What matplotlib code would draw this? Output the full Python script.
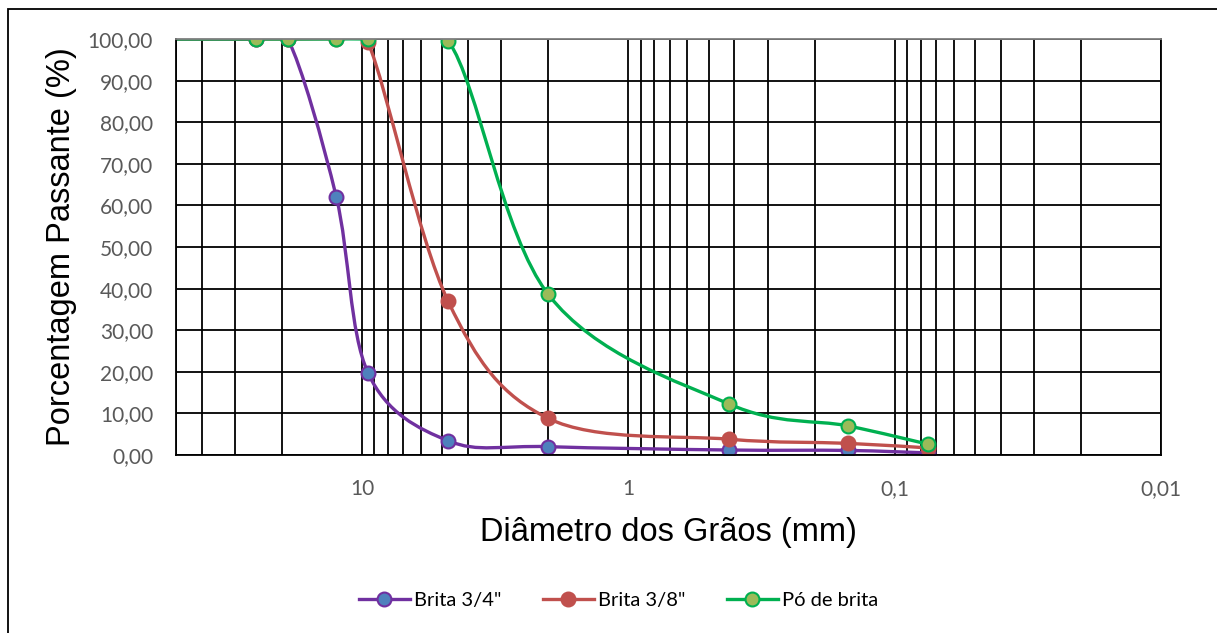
import numpy as np
import matplotlib.pyplot as plt
from matplotlib.path import Path
from matplotlib.patches import PathPatch, Rectangle
from matplotlib.lines import Line2D
from matplotlib.ticker import FixedLocator, LogLocator, NullFormatter

# sieve openings (mm) and percent passing
sieves = [76, 25, 19, 12.5, 9.5, 4.75, 2.0, 0.42, 0.15, 0.075]
brita_34 = [100, 100, 100, 62.0, 19.7, 3.4, 2.0, 1.2, 1.1, 0.5]
brita_38 = [100, 100, 100, 100, 99.2, 36.9, 8.8, 3.8, 2.8, 1.7]
po_brita = [100, 100, 100, 100, 100, 99.6, 38.6, 12.3, 7.0, 2.6]

series_names = ['Brita 3/4"', 'Brita 3/8"', 'Pó de brita']
line_colors = ['#7030A0', '#C0504D', '#00B050']
marker_faces = ['#4F81BD', '#C0504D', '#9BBB59']

x_ticks = [10, 1, 0.1, 0.01]
x_labels = ['10', '1', '0,1', '0,01']
y_ticks = list(range(0, 101, 10))


def smooth_path(xs, ys, sx=267.0, sy=4.16):
    # Excel-like smoothed line: cubic Bezier through points in pixel-ish space
    pts = np.column_stack([np.log10(xs) * sx, np.asarray(ys, float) * sy])
    n = len(pts)
    verts = [pts[0]]
    codes = [Path.MOVETO]
    for i in range(n - 1):
        p0 = pts[max(i - 1, 0)]
        p1 = pts[i]
        p2 = pts[i + 1]
        p3 = pts[min(i + 2, n - 1)]
        c1 = p1 + (p2 - p0) / 6
        c2 = p2 - (p3 - p1) / 6
        verts += [c1, c2, p2]
        codes += [Path.CURVE4] * 3
    verts = np.array(verts)
    return Path(np.column_stack([10 ** (verts[:, 0] / sx), verts[:, 1] / sy]), codes)


fig = plt.figure(figsize=(12.17, 6.33), dpi=100)
ax = fig.add_axes([176 / 1217, 1 - 455 / 633, (1161 - 176) / 1217, (455 - 39) / 633])

ax.set_xscale('log')
ax.set_xlim(50, 0.01)
ax.set_ylim(0, 100)

ax.xaxis.set_major_locator(FixedLocator(x_ticks))
ax.set_xticklabels(x_labels)
ax.xaxis.set_minor_locator(LogLocator(base=10, subs=np.arange(2, 10)))
ax.xaxis.set_minor_formatter(NullFormatter())
ax.set_yticks(y_ticks)
ax.set_yticklabels([f"{v:.2f}".replace('.', ',') for v in y_ticks])

ax.grid(True, which='both', axis='x', color='black', lw=1.3)
ax.grid(True, which='major', axis='y', color='black', lw=1.3)
ax.set_axisbelow(True)
for s in ax.spines.values():
    s.set_color('black')
    s.set_linewidth(1.3)
ax.spines['top'].set_color('#7f7f7f')

ax.tick_params(which='both', length=0)
ax.tick_params(axis='y', pad=16.5, labelsize=15, labelcolor='#595959')
ax.tick_params(axis='x', pad=17, labelsize=15, labelcolor='#595959')
for lbl in ax.get_xticklabels() + ax.get_yticklabels():
    lbl.set_family('Lato')

ax.set_ylabel('Porcentagem Passante (%)', family='Liberation Sans', fontsize=23.5, labelpad=8)
ax.set_xlabel('Diâmetro dos Grãos (mm)', family='Liberation Sans', fontsize=23.5, labelpad=13)

handles = []
for ys, name, lc, mf in zip([brita_34, brita_38, po_brita], series_names, line_colors, marker_faces):
    patch = PathPatch(smooth_path(sieves, ys), fill=False, edgecolor=lc, lw=2.4,
                      transform=ax.transData, capstyle='round', joinstyle='round')
    ax.add_patch(patch)
    ax.plot(sieves, ys, ls='none', marker='o', ms=10, mfc=mf, mec=lc, mew=1.5)
    handles.append(Line2D([], [], color=lc, lw=2.4, marker='o', ms=10, mfc=mf, mec=lc, mew=1.5))

fig.legend(handles, series_names, loc='center', bbox_to_anchor=(618.5 / 1217, 1 - 600 / 633),
           ncol=3, frameon=False, handlelength=2.5, handletextpad=0.2, columnspacing=2.1,
           prop={'family': 'Lato', 'size': 14.5})

fig.add_artist(Rectangle((8 / 1217, -0.05), 1.1, 1.05 - 9 / 633, transform=fig.transFigure,
                         fill=False, edgecolor='black', lw=1.3, clip_on=False))

fig.savefig('out.png', dpi=100, facecolor='white')
